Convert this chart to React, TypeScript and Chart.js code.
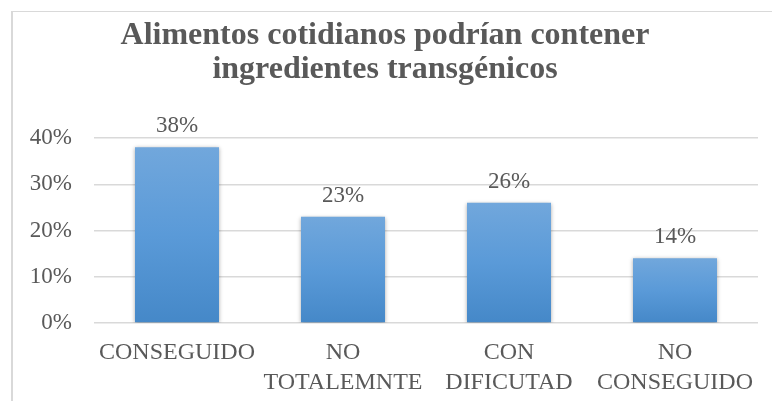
import React, { useEffect, useRef } from 'react';
import { Chart, registerables } from 'chart.js';

Chart.register(...registerables);

const categories: string[][] = [['CONSEGUIDO'], ['NO', 'TOTALEMNTE'], ['CON', 'DIFICUTAD'], ['NO', 'CONSEGUIDO']];
const values: number[] = [38, 23, 26, 14];
const titleLines: string[] = ['Alimentos cotidianos podrían contener', 'ingredientes transgénicos'];
const yMax = 40;
const yStep = 10;

const TEXT = '#595959';
const FONT = '"Liberation Serif", "Times New Roman", serif';

const titlePlugin = {
  id: 'customTitle',
  afterDraw(chart: any) {
    const ctx = chart.ctx;
    ctx.save();
    ctx.fillStyle = TEXT;
    ctx.font = `bold 32px ${FONT}`;
    ctx.textAlign = 'center';
    ctx.textBaseline = 'alphabetic';
    ctx.fillText(titleLines[0], 385, 44);
    ctx.fillText(titleLines[1], 385, 78);
    ctx.restore();
  },
};

const shadowPlugin = {
  id: 'barShadow',
  beforeDatasetDraw(chart: any) {
    const ctx = chart.ctx;
    ctx.save();
    ctx.shadowColor = 'rgba(0,0,0,0.35)';
    ctx.shadowBlur = 4;
    ctx.shadowOffsetX = 0;
    ctx.shadowOffsetY = 1;
  },
  afterDatasetDraw(chart: any) {
    chart.ctx.restore();
  },
};

const labelPlugin = {
  id: 'valueLabels',
  afterDatasetsDraw(chart: any) {
    const ctx = chart.ctx;
    const meta = chart.getDatasetMeta(0);
    ctx.save();
    ctx.fillStyle = TEXT;
    ctx.font = `23px ${FONT}`;
    ctx.textAlign = 'center';
    ctx.textBaseline = 'alphabetic';
    meta.data.forEach((bar: any, i: number) => {
      ctx.fillText(values[i] + '%', bar.x, bar.y - 15);
    });
    ctx.restore();
  },
};

export default function App() {
  const ref = useRef<HTMLCanvasElement | null>(null);

  useEffect(() => {
    if (!ref.current) return;
    const chart = new Chart(ref.current, {
      type: 'bar',
      data: {
        labels: categories,
        datasets: [
          {
            data: values,
            backgroundColor: (c: any) => {
              const ch = c.chart;
              const ys = ch.scales && ch.scales.y;
              if (!ys || c.type !== 'data') return '#5b9bd5';
              const top = ys.getPixelForValue(c.raw);
              const bottom = ys.getPixelForValue(0);
              if (!isFinite(top) || !isFinite(bottom) || top === bottom) return '#5b9bd5';
              const g = ch.ctx.createLinearGradient(0, top, 0, bottom);
              g.addColorStop(0, '#71a7dc');
              g.addColorStop(0.5, '#5a9ad8');
              g.addColorStop(1, '#4588c8');
              return g;
            },
            borderWidth: 0,
            barPercentage: 0.506,
            categoryPercentage: 1,
          },
        ],
      },
      options: {
        responsive: false,
        animation: false,
        layout: { padding: { top: 138, right: 14, left: 0, bottom: 0 } },
        plugins: {
          legend: { display: false },
          title: { display: false },
          tooltip: { enabled: false },
        },
        scales: {
          x: {
            grid: { display: false, drawTicks: false },
            border: { display: false },
            ticks: {
              color: TEXT,
              font: { family: FONT, size: 24, lineHeight: 1.23 },
              padding: 15,
              maxRotation: 0,
              autoSkip: false,
            },
            afterFit: (s: any) => {
              s.height = 78;
            },
          },
          y: {
            min: 0,
            max: yMax,
            grid: { color: '#d9d9d9', lineWidth: 1.5, drawTicks: false },
            border: { display: false },
            ticks: {
              stepSize: yStep,
              color: TEXT,
              font: { family: FONT, size: 23 },
              padding: 22,
              callback: (v: any) => v + '%',
            },
            afterFit: (s: any) => {
              s.width = 94;
            },
          },
        },
      },
      plugins: [shadowPlugin, labelPlugin, titlePlugin],
    });
    return () => chart.destroy();
  }, []);

  return (
    <div style={{ position: 'fixed', left: 0, top: 0, width: 772, height: 401, overflow: 'hidden', background: '#fff' }}>
      <div
        style={{
          position: 'absolute',
          left: 11,
          top: 11,
          width: 800,
          height: 420,
          borderLeft: '2px solid #d9d9d9',
          borderTop: '1px solid #d9d9d9',
        }}
      />
      <canvas ref={ref} width={772} height={401} style={{ position: 'absolute', left: 0, top: 0, width: 772, height: 401 }} />
    </div>
  );
}
